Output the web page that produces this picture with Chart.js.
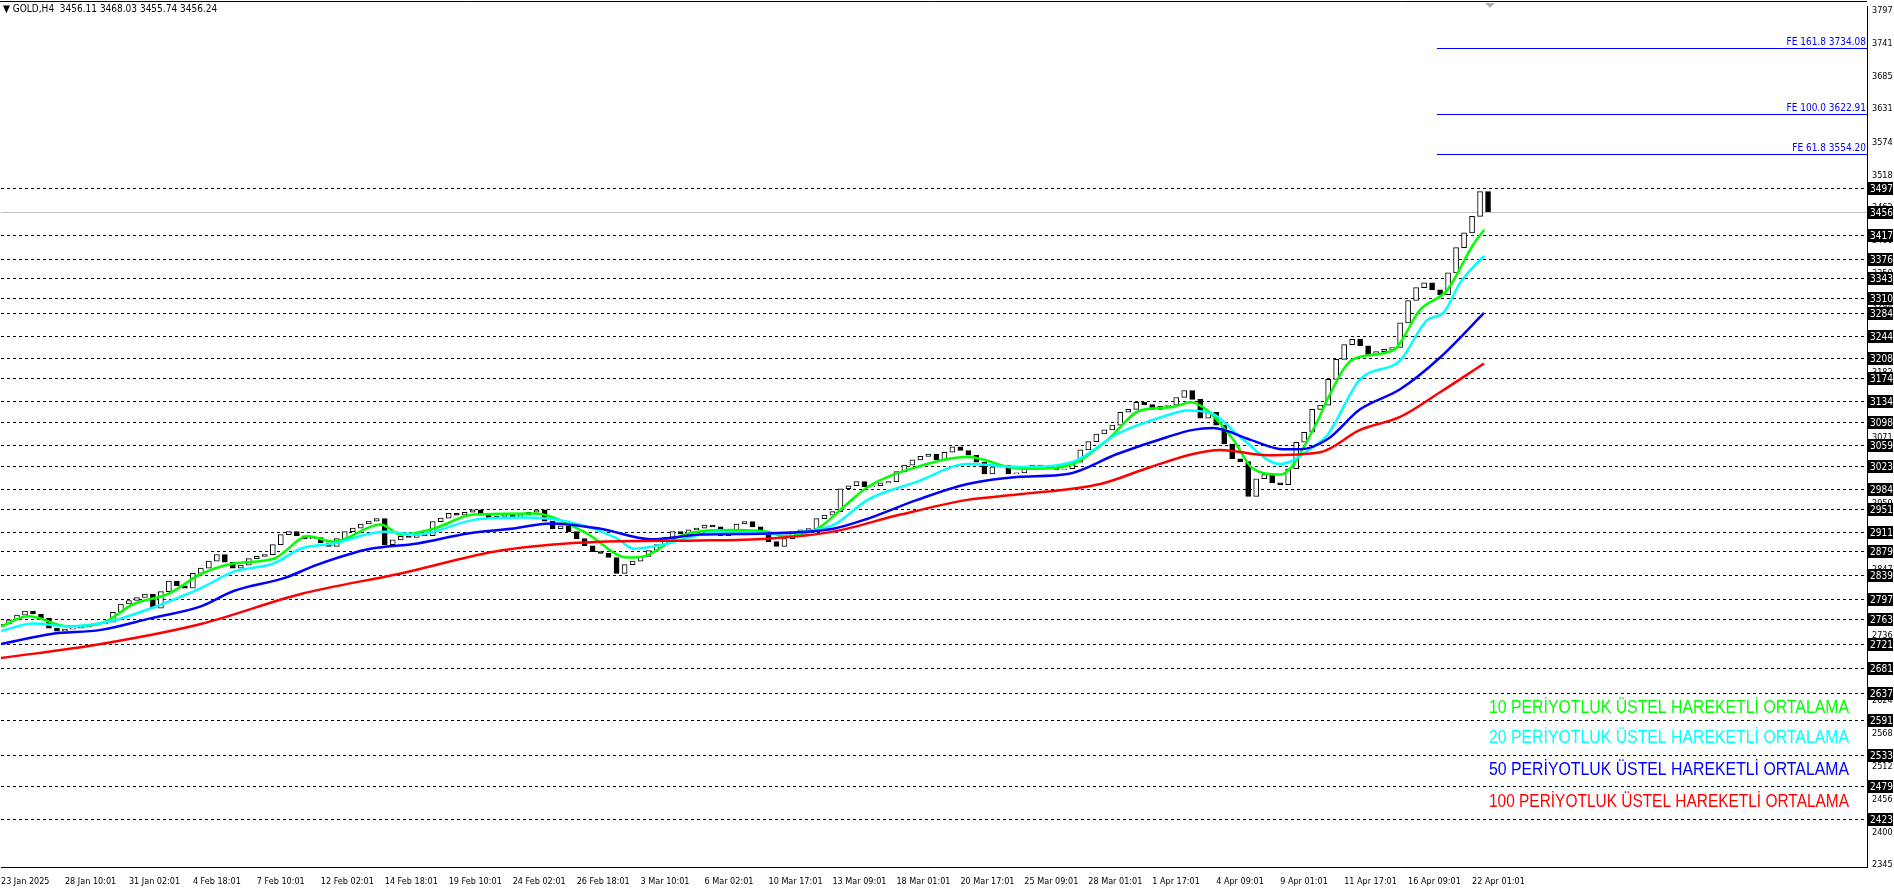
<!DOCTYPE html>
<html><head><meta charset="utf-8">
<script src="https://cdn.jsdelivr.net/npm/chart.js@4.4.1/dist/chart.umd.min.js"></script>
<style>html,body{margin:0;padding:0;background:#fff;overflow:hidden}#w{width:1894px;height:888px;position:relative}</style>
</head><body><div id="w"><canvas id="c"></canvas></div>
<script>
// closes, one candle per 2 H4 bars
const closes = [
2755,2762,2770,2777,2772,2765,2748,2743,2746,2748,
2750,2753,2755,2758,2775,2789,2795,2800,2806,2782,
2810,2828,2820,2816,2841,2850,2862,2873,2860,2850,
2855,2866,2870,2873,2890,2907,2912,2905,2900,2902,
2893,2887,2900,2912,2918,2925,2930,2934,2890,2898,
2904,2902,2907,2905,2929,2935,2943,2940,2945,2949,
2940,2934,2938,2941,2936,2941,2945,2949,2930,2917,
2922,2912,2900,2888,2878,2875,2868,2841,2856,2862,
2870,2880,2890,2902,2912,2908,2915,2918,2923,2920,
2905,2915,2925,2929,2920,2910,2895,2887,2900,2912,
2915,2917,2934,2940,2946,2985,2990,2997,2988,2990,
2995,2997,3014,3025,3034,3040,3044,3034,3047,3056,
3050,3042,3030,3010,3022,3025,3010,3012,3020,3025,
3022,3020,3018,3019,3030,3051,3065,3078,3085,3093,
3115,3120,3132,3128,3120,3125,3127,3140,3152,3137,
3105,3115,3093,3061,3036,3031,2972,3002,3009,2995,
2992,3019,3064,3081,3120,3127,3171,3205,3230,3239,
3228,3212,3218,3222,3225,3267,3305,3327,3335,3323,
3315,3352,3395,3420,3448,3490,3456];
const firstOpen = 2750;

// EMA lines: [candle index, value]
const ema10 = [[0,2751],[3.4,2768],[8.4,2751],[12.5,2756],[16.6,2789],[20.9,2806],[25,2840],[29.1,2858],[34.1,2866],[38.4,2904],[41.6,2895],[47.5,2924],[50,2907],[54.1,2917],[59.1,2941],[66.6,2943],[72.9,2912],[78.4,2868],[80.4,2870],[85.4,2907],[91.6,2915],[95.9,2912],[97.9,2904],[102.1,2917],[105,2949],[108.4,2988],[114.6,3022],[120.9,3039],[127.5,3019],[129.1,3019],[134.1,3027],[138.4,3068],[142.5,3118],[146.6,3124],[148.8,3132],[150.9,3118],[154.1,3069],[156.6,3019],[160,3009],[164.6,3098],[165.9,3137],[169.1,3205],[174.1,3220],[177.5,3289],[180.9,3323],[184.1,3399],[185.5,3425]];
const ema20 = [[0,2743],[4.1,2756],[8.4,2751],[13.8,2760],[18.8,2782],[25,2816],[29.1,2844],[34.1,2858],[37.5,2883],[41.6,2892],[47.9,2912],[52.1,2907],[59.1,2932],[65,2936],[70.9,2929],[77.1,2900],[79.1,2883],[83.4,2892],[89.6,2912],[95.9,2909],[100,2912],[104.1,2923],[108.4,2966],[114.6,2997],[120.9,3027],[127.5,3022],[134.1,3031],[139.6,3078],[145.9,3110],[148.4,3118],[151.6,3112],[155,3073],[160,3027],[164.6,3061],[165.9,3076],[170,3171],[175,3203],[178.4,3272],[180.4,3284],[182.5,3335],[185.5,3381]];
const ema50 = [[0,2721],[6.3,2738],[12.5,2745],[18.8,2765],[25,2785],[29.1,2811],[35.4,2833],[39.6,2856],[45.9,2882],[52.1,2892],[58.4,2909],[63.8,2917],[68.8,2926],[75,2917],[81.3,2899],[87.5,2907],[95.9,2909],[104.1,2917],[108.4,2934],[114.6,2966],[120.9,2993],[127.1,3005],[133.4,3010],[139.6,3044],[145.9,3073],[149.1,3085],[151.6,3088],[156.3,3068],[160.4,3052],[162.5,3052],[165.9,3069],[170,3120],[175,3154],[180,3208],[185.5,3284]];
const ema100 = [[0,2697],[12.5,2721],[25,2755],[37.5,2806],[50,2841],[62.5,2880],[75,2895],[87.5,2897],[95.9,2900],[104.1,2912],[112.5,2941],[120.9,2966],[127.1,2975],[137.5,2993],[143.8,3022],[149.1,3044],[152.5,3051],[158.4,3042],[165,3047],[170,3085],[175,3107],[180,3149],[185.5,3198]];

const levels = [3497,3417,3376,3343,3310,3284,3244,3208,3174,3134,3098,3059,3023,2984,2951,2911,2879,2839,2797,2763,2721,2681,2637,2591,2533,2479,2423];
const lastPrice = 3456;
const feLevels = [3734.08,3622.91,3554.20];
const feLabels = ["FE 161.8 3734.08","FE 100.0 3622.91","FE 61.8 3554.20"];
const yTicks = [3797,3741,3685,3631,3574,3518,3462,3406,3350,3294,3238,3182,3127,3071,3015,2959,2903,2847,2791,2736,2680,2624,2568,2512,2456,2400,2345];
const xLabels = ["23 Jan 2025","28 Jan 10:01","31 Jan 02:01","4 Feb 18:01","7 Feb 10:01","12 Feb 02:01","14 Feb 18:01","19 Feb 10:01","24 Feb 02:01","26 Feb 18:01","3 Mar 10:01","6 Mar 02:01","10 Mar 17:01","13 Mar 09:01","18 Mar 01:01","20 Mar 17:01","25 Mar 09:01","28 Mar 01:01","1 Apr 17:01","4 Apr 09:01","9 Apr 01:01","11 Apr 17:01","16 Apr 09:01","22 Apr 01:01"];
const legendTexts = ["10 PERİYOTLUK ÜSTEL HAREKETLİ ORTALAMA","20 PERİYOTLUK ÜSTEL HAREKETLİ ORTALAMA","50 PERİYOTLUK ÜSTEL HAREKETLİ ORTALAMA","100 PERİYOTLUK ÜSTEL HAREKETLİ ORTALAMA"];
const legendColors = ["#00ff00","#00ffff","#0000ff","#ff0000"];

const candles = closes.map((c,i)=>({x:i, y:[i===0?firstOpen:closes[i-1], c]}));
const toPts = a => a.map(p=>({x:p[0],y:p[1]}));
const lineDs = (d,col)=>({type:'line',data:toPts(d),borderColor:col,borderWidth:2.5,pointRadius:0,cubicInterpolationMode:'monotone',order:0});
const AX = '"DejaVu Sans Condensed","DejaVu Sans"';

const overlay = {
  id:'overlay',
  beforeDatasetsDraw(ch){
    const {ctx,chartArea:a,scales:{x,y}} = ch;
    ctx.save();
    ctx.strokeStyle='#000';ctx.lineWidth=1;ctx.setLineDash([3,3]);
    levels.forEach(v=>{const py=Math.round(y.getPixelForValue(v))+0.5;ctx.beginPath();ctx.moveTo(a.left,py);ctx.lineTo(a.right,py);ctx.stroke();});
    ctx.setLineDash([]);
    ctx.strokeStyle='#c0c0c0';
    let py=Math.round(y.getPixelForValue(lastPrice))+0.5;ctx.beginPath();ctx.moveTo(a.left,py);ctx.lineTo(a.right,py);ctx.stroke();
    ctx.strokeStyle='#0000ff';ctx.fillStyle='#0000ff';ctx.font='10px '+AX;ctx.textAlign='right';ctx.textBaseline='bottom';
    const fx=x.getPixelForValue(179.6);
    feLevels.forEach((v,i)=>{const p=Math.round(y.getPixelForValue(v))+0.5;ctx.beginPath();ctx.moveTo(fx,p);ctx.lineTo(a.right,p);ctx.stroke();ctx.fillText(feLabels[i],a.right-1,p-1);});
    ctx.restore();
  },
  afterDraw(ch){
    const {ctx,chartArea:a,scales:{y}} = ch;
    ctx.save();
    ctx.font='10px '+AX;ctx.textBaseline='middle';ctx.textAlign='left';
    [...levels,lastPrice].forEach(v=>{const p=Math.round(y.getPixelForValue(v));ctx.fillStyle='#000';ctx.fillRect(a.right+1,p-6,25,13);ctx.fillStyle='#fff';ctx.fillText(String(v),a.right+3,p+1);});
    ctx.font='19px "Liberation Sans"';ctx.textAlign='right';ctx.textBaseline='alphabetic';
    const ly=[713,743,775,807];
    legendTexts.forEach((t,i)=>{ctx.fillStyle=legendColors[i];ctx.fillText(t,a.right-18,ly[i],360);});
    ctx.fillStyle='#000';ctx.font='10px '+AX;ctx.textAlign='left';ctx.textBaseline='middle';
    ctx.fillText('▼ GOLD,H4  3456.11 3468.03 3455.74 3456.24',3,9);
    ctx.strokeStyle='#000';ctx.lineWidth=1;ctx.beginPath();ctx.moveTo(0,1.5);ctx.lineTo(a.right,1.5);ctx.stroke();
    ctx.fillStyle='#b0b0b0';ctx.beginPath();const tx=1490;ctx.moveTo(tx-5,3);ctx.lineTo(tx+5,3);ctx.lineTo(tx,8);ctx.fill();
    ctx.restore();
  }
};

new Chart(document.getElementById('c'),{
  type:'bar',
  data:{datasets:[
    lineDs(ema100,'#ff0000'),lineDs(ema50,'#0000ff'),lineDs(ema20,'#00ffff'),lineDs(ema10,'#00ff00'),
    {type:'bar',data:candles,barThickness:5,order:1,
     backgroundColor:ctx=>{const r=ctx.raw;return r&&r.y[1]>=r.y[0]?'#ffffff':'#000000';},
     borderColor:'#000',borderWidth:1,borderSkipped:false,grouped:false}
  ]},
  options:{
    responsive:true,maintainAspectRatio:false,animation:false,
    layout:{padding:{top:0,left:0,right:0,bottom:0}},
    plugins:{legend:{display:false},tooltip:{enabled:false}},
    scales:{
      x:{type:'linear',min:0,max:233.4,offset:false,
        grid:{display:false,drawTicks:true},border:{color:'#000',width:1},
        afterBuildTicks:s=>{s.ticks=xLabels.map((l,i)=>({value:i*8}));},
        ticks:{autoSkip:false,maxRotation:0,align:'start',padding:1,color:'#000',font:{family:'DejaVu Sans Condensed',size:9},callback:(v)=>xLabels[Math.round(v/8)]||''}},
      y:{position:'right',min:2341.5,max:3805,
        grid:{display:false,tickLength:4},border:{color:'#000',width:1},
        afterBuildTicks:s=>{s.ticks=yTicks.map(v=>({value:v}));},
        afterFit:s=>{s.width=27;},
        ticks:{autoSkip:false,padding:1,color:'#000',font:{family:'DejaVu Sans Condensed',size:9},callback:v=>String(v)}}
    }
  },
  plugins:[overlay]
});
</script></body></html>
